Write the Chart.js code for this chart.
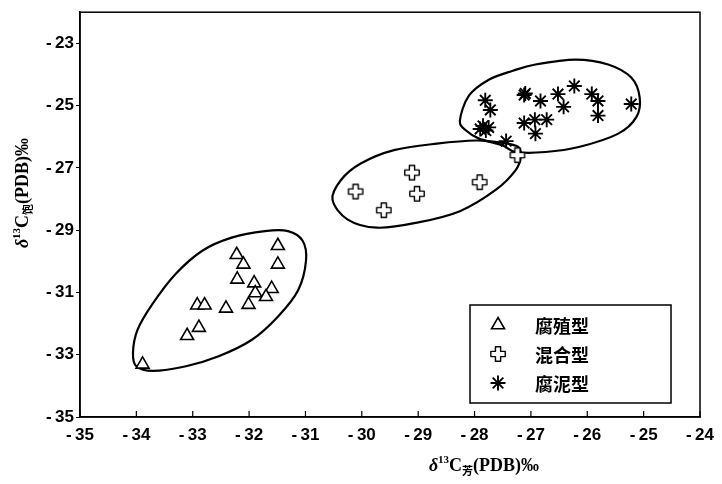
<!DOCTYPE html>
<html>
<head>
<meta charset="utf-8">
<script src="https://cdn.jsdelivr.net/npm/chart.js@4.4.1/dist/chart.umd.min.js"></script>
<style>
  html, body { margin: 0; padding: 0; background: #fff; }
  #wrap { width: 722px; height: 484px; }
</style>
</head>
<body>
<div id="wrap"><canvas id="chart" width="722" height="484"></canvas></div>
<script>
// series names and tick values
const seriesNames = ["腐殖型", "混合型", "腐泥型"];
const xTicks = [-35, -34, -33, -32, -31, -30, -29, -28, -27, -26, -25, -24];
const yTicks = [-35, -33, -31, -29, -27, -25, -23];

// [δ13C芳, δ13C饱]
const humic = [
  [-31.49, -29.50], [-32.22, -29.79], [-32.10, -30.10], [-31.49, -30.10],
  [-32.21, -30.58], [-31.91, -30.70], [-31.89, -31.02], [-31.60, -30.88],
  [-31.70, -31.14], [-32.01, -31.39], [-32.92, -31.41], [-32.79, -31.41],
  [-32.41, -31.51], [-32.89, -32.13], [-33.10, -32.39], [-33.89, -33.31],
];
const mixed = [
  [-29.11, -27.15], [-30.11, -27.76], [-29.02, -27.83], [-29.61, -28.36],
  [-27.91, -27.46], [-27.24, -26.59],
];
const sapropelic = [
  [-27.81, -24.83], [-27.72, -25.14], [-27.85, -25.65], [-27.75, -25.70],
  [-27.80, -25.80], [-27.90, -25.75], [-27.10, -24.61], [-27.12, -24.66],
  [-26.83, -24.85], [-26.52, -24.63], [-26.42, -25.04], [-26.23, -24.37],
  [-25.92, -24.63], [-25.81, -24.85], [-25.81, -25.32], [-25.22, -24.95],
  [-27.12, -25.56], [-26.93, -25.45], [-26.72, -25.45], [-26.92, -25.90],
  [-27.44, -26.14],
];

// hand-drawn group outlines, in data units
const humicOutline = [
  [-34.00, -33.37], [-33.71, -33.52], [-33.12, -33.37], [-32.54, -33.05],
  [-31.95, -32.52], [-31.49, -31.78], [-31.13, -30.93], [-30.99, -29.98],
  [-31.05, -29.34], [-31.31, -29.03], [-31.72, -29.03], [-32.31, -29.24],
  [-32.83, -29.66], [-33.30, -30.40], [-33.71, -31.36], [-33.98, -32.20],
  [-34.06, -32.94],
];
const mixedOutline = [
  [-30.52, -28.02], [-30.25, -28.66], [-29.73, -28.92], [-29.02, -28.76],
  [-28.26, -28.39], [-27.62, -27.70], [-27.27, -27.07], [-27.18, -26.64],
  [-27.23, -26.32], [-27.53, -26.19], [-27.97, -26.12], [-28.67, -26.22],
  [-29.43, -26.43], [-30.02, -26.86], [-30.37, -27.39],
];
const sapropelicOutline = [
  [-28.26, -25.48], [-28.10, -24.68], [-27.74, -24.16], [-27.32, -23.88],
  [-26.92, -23.68], [-26.21, -23.52], [-25.63, -23.68], [-25.22, -24.10],
  [-25.07, -24.74], [-25.13, -25.37], [-25.45, -25.90], [-26.15, -26.33],
  [-26.74, -26.49], [-27.27, -26.49], [-27.50, -26.28], [-27.92, -26.06],
  [-28.15, -25.80],
];

const toXY = (arr) => arr.map((p) => ({ x: p[0], y: p[1] }));

// hollow plus marker
const makePlus = () => {
  const c = document.createElement("canvas");
  c.width = 18; c.height = 18;
  const g = c.getContext("2d");
  const m = 9, a = 2.6, L = 7.2;
  g.beginPath();
  g.moveTo(m - a, m - L); g.lineTo(m + a, m - L); g.lineTo(m + a, m - a);
  g.lineTo(m + L, m - a); g.lineTo(m + L, m + a); g.lineTo(m + a, m + a);
  g.lineTo(m + a, m + L); g.lineTo(m - a, m + L); g.lineTo(m - a, m + a);
  g.lineTo(m - L, m + a); g.lineTo(m - L, m - a); g.lineTo(m - a, m - a);
  g.closePath();
  g.fillStyle = "#fff";
  g.fill();
  g.lineJoin = "round";
  g.lineWidth = 1.4;
  g.strokeStyle = "#000";
  g.stroke();
  return c;
};
const plusImg = makePlus();

const markerStyles = [
  { pointStyle: "triangle", radius: 7.5, borderWidth: 1.6, backgroundColor: "#fff" },
  { pointStyle: plusImg, radius: 8, borderWidth: 1, backgroundColor: "#fff" },
  { pointStyle: "star", radius: 7.5, borderWidth: 1.9, backgroundColor: "#000" },
];

const outlinePlugin = {
  id: "outlines",
  beforeDatasetsDraw(chart) {
    const { ctx, scales } = chart;
    const sx = scales.x, sy = scales.y;
    ctx.save();
    ctx.strokeStyle = "#000";
    ctx.lineWidth = 2.2;
    [humicOutline, mixedOutline, sapropelicOutline].forEach((ring) => {
      const pts = ring.map((p) => [sx.getPixelForValue(p[0]), sy.getPixelForValue(p[1])]);
      const n = pts.length;
      ctx.beginPath();
      ctx.moveTo(pts[0][0], pts[0][1]);
      for (let i = 0; i < n; i++) {
        const p0 = pts[(i - 1 + n) % n], p1 = pts[i];
        const p2 = pts[(i + 1) % n], p3 = pts[(i + 2) % n];
        ctx.bezierCurveTo(
          p1[0] + (p2[0] - p0[0]) / 6, p1[1] + (p2[1] - p0[1]) / 6,
          p2[0] - (p3[0] - p1[0]) / 6, p2[1] - (p3[1] - p1[1]) / 6,
          p2[0], p2[1]
        );
      }
      ctx.closePath();
      ctx.stroke();
    });
    ctx.restore();
  },
};

// draws text runs: [text, font, baseline shift]
const drawRuns = (ctx, runs, cx, cy) => {
  let total = 0;
  runs.forEach((r) => { ctx.font = r[1]; total += ctx.measureText(r[0]).width; });
  let x = cx - total / 2;
  ctx.textBaseline = "alphabetic";
  ctx.textAlign = "left";
  runs.forEach((r) => {
    ctx.font = r[1];
    ctx.fillText(r[0], x, cy + r[2]);
    x += ctx.measureText(r[0]).width;
  });
};

const framePlugin = {
  id: "frame",
  afterDraw(chart) {
    const { ctx, chartArea: a, scales } = chart;
    ctx.save();
    ctx.strokeStyle = "#000";
    ctx.lineWidth = 1.5;
    ctx.strokeRect(a.left, a.top, a.right - a.left, a.bottom - a.top);

    // inward x ticks
    ctx.lineWidth = 1.2;
    xTicks.forEach((v) => {
      const px = scales.x.getPixelForValue(v);
      ctx.beginPath();
      ctx.moveTo(px, a.bottom);
      ctx.lineTo(px, a.bottom - 6);
      ctx.stroke();
    });

    // legend box
    const lx = a.right - 230, ly = a.bottom - 112, lw = 201, lh = 98;
    ctx.lineWidth = 1.5;
    ctx.strokeRect(lx, ly, lw, lh);
    seriesNames.forEach((name, i) => {
      const yy = ly + 20 + i * 29;
      const st = markerStyles[i];
      ctx.fillStyle = st.backgroundColor;
      ctx.strokeStyle = "#000";
      ctx.lineWidth = st.borderWidth;
      Chart.helpers.drawPoint(ctx, {
        pointStyle: st.pointStyle, radius: st.radius, rotation: 0, borderWidth: st.borderWidth,
      }, lx + 28, yy);
      ctx.fillStyle = "#000";
      ctx.font = "bold 18px 'Noto Sans CJK SC'";
      ctx.textBaseline = "middle";
      ctx.textAlign = "left";
      ctx.fillText(name, lx + 65, yy + 1);
    });

    // axis titles
    ctx.fillStyle = "#000";
    const serif = "'Liberation Serif'";
    const runsFor = (sub) => [
      ["δ", "italic bold 18px " + serif, 0],
      ["13", "bold 11px " + serif, -8],
      ["C", "bold 18px " + serif, 0],
      [sub, "bold 11px 'Noto Sans CJK SC'", 4],
      ["(PDB)‰", "bold 18px " + serif, 0],
    ];
    drawRuns(ctx, runsFor("芳"), 484, 471);
    ctx.translate(28, 193);
    ctx.rotate(-Math.PI / 2);
    drawRuns(ctx, runsFor("饱"), 0, 0);
    ctx.restore();
  },
};

const tickFont = { family: "'Liberation Sans', Arial, sans-serif", weight: "bold", size: 17 };
// gap after the minus sign, as in the printed figure
const spaced = (v) => (v < 0 ? "-\u2009" + String(-v) : String(v));

new Chart(document.getElementById("chart").getContext("2d"), {
  type: "scatter",
  data: {
    datasets: [humic, mixed, sapropelic].map((arr, i) => ({
      label: seriesNames[i],
      data: toXY(arr),
      pointStyle: markerStyles[i].pointStyle,
      pointRadius: markerStyles[i].radius,
      pointHoverRadius: markerStyles[i].radius,
      pointBorderWidth: markerStyles[i].borderWidth,
      pointBackgroundColor: markerStyles[i].backgroundColor,
      pointBorderColor: "#000",
    })),
  },
  options: {
    responsive: false,
    devicePixelRatio: 1,
    animation: false,
    layout: { padding: { top: 7, right: 16, left: 0, bottom: 0 } },
    plugins: { legend: { display: false }, tooltip: { enabled: false } },
    scales: {
      x: {
        type: "linear",
        min: -35,
        max: -24,
        afterBuildTicks: (s) => { s.ticks = xTicks.map((v) => ({ value: v })); },
        afterFit: (s) => { s.height = 67; },
        grid: { display: true, drawOnChartArea: false, drawTicks: false },
        border: { display: true, color: "#000", width: 1.5 },
        ticks: { color: "#000", font: tickFont, padding: 8, maxRotation: 0, autoSkip: false, callback: spaced },
      },
      y: {
        type: "linear",
        min: -35,
        max: -22,
        afterBuildTicks: (s) => { s.ticks = yTicks.map((v) => ({ value: v })); },
        afterFit: (s) => { s.width = 80; },
        grid: { display: true, drawOnChartArea: false, drawTicks: true, tickLength: 4, color: "#000" },
        border: { display: true, color: "#000", width: 1.5 },
        ticks: { color: "#000", font: tickFont, padding: 2, autoSkip: false, callback: spaced },
      },
    },
  },
  plugins: [outlinePlugin, framePlugin],
});
</script>
</body>
</html>
